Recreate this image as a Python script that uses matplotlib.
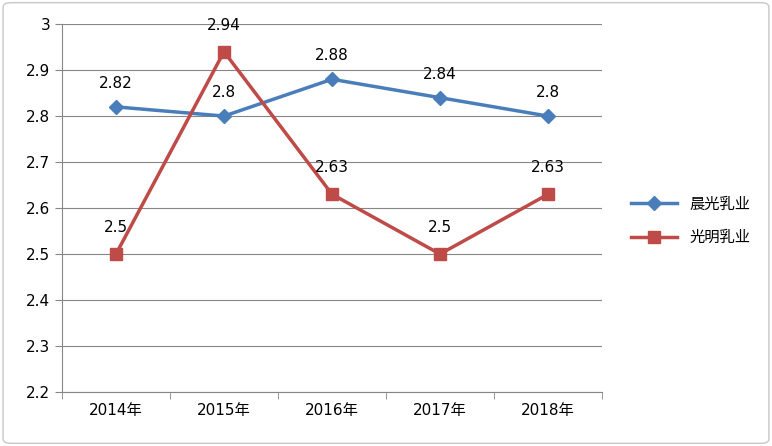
import matplotlib.pyplot as plt
from matplotlib.patches import FancyBboxPatch

years = ["2014年", "2015年", "2016年", "2017年", "2018年"]
chenguang = [2.82, 2.80, 2.88, 2.84, 2.80]
guangming = [2.50, 2.94, 2.63, 2.50, 2.63]
chenguang_labels = ["2.82", "2.8", "2.88", "2.84", "2.8"]
guangming_labels = ["2.5", "2.94", "2.63", "2.5", "2.63"]

plt.rcParams["font.family"] = ["DejaVu Sans", "Noto Sans CJK SC",
                               "Noto Sans CJK JP", "Noto Sans CJK TC"]
BLUE = "#4a7ebb"
RED = "#be4b48"

fig = plt.figure(figsize=(7.72, 4.46), dpi=100)
fig.patches.append(FancyBboxPatch((0.004, 0.006), 0.992, 0.988,
                                  boxstyle="round,pad=0,rounding_size=0.01",
                                  transform=fig.transFigure, fill=False,
                                  edgecolor="#c8c8c8", linewidth=1))
ax = fig.add_axes([0.0803, 0.121, 0.6995, 0.825])

x = range(len(years))
ax.plot(x, chenguang, color=BLUE, lw=2.5, marker="D", ms=7, label="晨光乳业")
ax.plot(x, guangming, color=RED, lw=2.5, marker="s", ms=8, label="光明乳业")

for xi, v, t in zip(x, chenguang, chenguang_labels):
    ax.annotate(t, (xi, v), xytext=(0, 17), textcoords="offset points",
                ha="center", va="center", fontsize=11)
for xi, v, t in zip(x, guangming, guangming_labels):
    ax.annotate(t, (xi, v), xytext=(0, 19), textcoords="offset points",
                ha="center", va="center", fontsize=11)

ax.set_xlim(-0.5, 4.5)
ax.set_ylim(2.2, 3.0)
ax.set_yticks([2.2, 2.3, 2.4, 2.5, 2.6, 2.7, 2.8, 2.9, 3.0])
ax.set_yticklabels(["2.2", "2.3", "2.4", "2.5", "2.6", "2.7", "2.8", "2.9", "3"])
ax.set_xticks(list(x))
ax.set_xticklabels(years)
ax.set_xticks([i - 0.5 for i in range(6)], minor=True)
ax.tick_params(axis="x", which="major", length=0, pad=8, labelsize=11)
ax.tick_params(axis="x", which="minor", length=5, color="#868686")
ax.tick_params(axis="y", length=5, color="#868686", labelsize=11)
ax.grid(axis="y", color="#868686", lw=0.8)
ax.set_axisbelow(True)
for s in ["top", "right"]:
    ax.spines[s].set_visible(False)
for s in ["left", "bottom"]:
    ax.spines[s].set_color("#868686")

fig.legend(loc="center left", bbox_to_anchor=(0.8, 0.505), frameon=False,
           prop={"size": 11}, handlelength=3, labelspacing=1.2)

fig.savefig("out.png")
